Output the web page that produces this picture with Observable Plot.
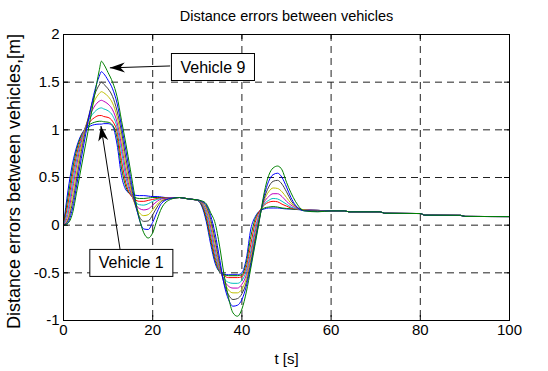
<!DOCTYPE html>
<html><head><meta charset="utf-8">
<script src="https://cdn.jsdelivr.net/npm/d3@7"></script>
<script src="https://cdn.jsdelivr.net/npm/@observablehq/plot@0.6"></script>
<style>html,body{margin:0;padding:0;background:#fff;}</style>
</head><body><div id="chart"></div>
<script>
const time = [0,1,2,3,4,5,6,7,8,8.5,9,10,11,12,13,14,15,16,17,18,19,20,21,22,24,26,28,30,31,32,33,34,35,36,37,38,39,40,41,42,43,44,45,46,47,48,49,50,51,52,54,57,60,63,64,71,72,80,81,89,90,100];

const vehicle1 = [0,0.36,0.64,0.83,0.95,1.01,1.04,1.055,1.06,1.06,1.065,
  1.065,1.04,0.85,0.52,0.37,0.33,0.315,0.31,0.31,0.305,0.30,0.30,0.295,
  0.285,0.29,0.275,0.26,
  0.20,0.04,-0.20,-0.40,-0.49,-0.515,-0.52,-0.52,-0.52,-0.50,-0.35,-0.04,0.09,0.15,0.17,0.18,0.18,0.18,0.175,0.17,0.17,0.165,
  0.16,0.155,0.15,0.15,0.14,0.14,0.125,0.122,0.105,0.103,0.092,0.09];
const vehicle2 = [0,0.29,0.58,0.80,0.94,1.02,1.06,1.08,1.09,1.09,1.085,
  1.08,1.05,0.92,0.60,0.40,0.32,0.29,0.28,0.28,0.285,0.29,0.29,0.29,
  0.285,0.29,0.275,0.262,
  0.21,0.07,-0.16,-0.37,-0.49,-0.52,-0.53,-0.53,-0.53,-0.52,-0.39,-0.12,0.07,0.15,0.18,0.19,0.195,0.19,0.18,0.175,0.17,0.165,
  0.16,0.155,0.15,0.15,0.14,0.14,0.125,0.122,0.105,0.103,0.092,0.09];
const vehicle3 = [0,0.22,0.51,0.75,0.92,1.03,1.09,1.13,1.15,1.15,1.14,
  1.13,1.09,0.98,0.68,0.44,0.32,0.27,0.25,0.25,0.26,0.27,0.28,0.285,
  0.285,0.29,0.275,0.262,
  0.22,0.10,-0.12,-0.34,-0.48,-0.53,-0.55,-0.55,-0.55,-0.54,-0.44,-0.20,0.03,0.15,0.21,0.24,0.25,0.245,0.22,0.20,0.18,0.17,
  0.16,0.155,0.15,0.15,0.14,0.14,0.125,0.122,0.105,0.103,0.092,0.09];
const vehicle4 = [0,0.16,0.44,0.70,0.90,1.04,1.13,1.19,1.225,1.23,1.22,
  1.20,1.15,1.03,0.77,0.50,0.34,0.25,0.215,0.21,0.225,0.25,0.27,0.28,
  0.285,0.29,0.275,0.263,
  0.23,0.13,-0.07,-0.30,-0.47,-0.56,-0.60,-0.61,-0.61,-0.58,-0.48,-0.27,-0.03,0.13,0.22,0.26,0.28,0.275,0.25,0.22,0.19,0.175,
  0.16,0.155,0.15,0.15,0.14,0.14,0.125,0.122,0.105,0.103,0.092,0.09];
const vehicle5 = [0,0.11,0.37,0.64,0.87,1.04,1.16,1.25,1.30,1.31,1.30,
  1.27,1.21,1.08,0.84,0.56,0.36,0.23,0.175,0.16,0.17,0.21,0.25,0.275,
  0.285,0.29,0.275,0.264,
  0.235,0.16,-0.02,-0.25,-0.45,-0.58,-0.64,-0.66,-0.66,-0.62,-0.52,-0.31,-0.07,0.12,0.24,0.30,0.33,0.33,0.30,0.25,0.21,0.185,
  0.16,0.155,0.15,0.15,0.14,0.14,0.125,0.122,0.105,0.103,0.092,0.09];
const vehicle6 = [0,0.07,0.30,0.57,0.83,1.03,1.19,1.31,1.38,1.40,1.39,
  1.35,1.28,1.14,0.91,0.63,0.40,0.22,0.13,0.10,0.11,0.16,0.22,0.26,
  0.28,0.29,0.275,0.264,
  0.24,0.18,0.02,-0.20,-0.43,-0.59,-0.68,-0.71,-0.71,-0.67,-0.56,-0.35,-0.11,0.10,0.26,0.35,0.39,0.385,0.35,0.29,0.23,0.195,
  0.16,0.15,0.15,0.15,0.14,0.14,0.125,0.122,0.105,0.103,0.092,0.09];
const vehicle7 = [0,0.05,0.23,0.50,0.77,1.01,1.21,1.37,1.47,1.50,1.48,
  1.43,1.35,1.20,0.98,0.70,0.45,0.23,0.09,0.04,0.045,0.11,0.19,0.25,
  0.28,0.29,0.275,0.265,
  0.245,0.20,0.06,-0.15,-0.40,-0.61,-0.73,-0.78,-0.77,-0.72,-0.60,-0.39,-0.14,0.09,0.28,0.40,0.46,0.47,0.43,0.35,0.26,0.20,
  0.155,0.15,0.15,0.15,0.14,0.14,0.125,0.122,0.105,0.103,0.092,0.09];
const vehicle8 = [0,0.03,0.17,0.43,0.70,0.96,1.20,1.41,1.56,1.61,1.59,
  1.52,1.43,1.28,1.04,0.78,0.51,0.26,0.06,-0.04,-0.045,0.03,0.14,0.23,
  0.28,0.29,0.275,0.265,
  0.25,0.215,0.10,-0.09,-0.35,-0.62,-0.78,-0.85,-0.84,-0.78,-0.64,-0.42,-0.17,0.08,0.31,0.46,0.53,0.545,0.50,0.40,0.29,0.21,
  0.15,0.145,0.15,0.15,0.14,0.14,0.125,0.122,0.105,0.103,0.092,0.09];
const vehicle9 = [0,0.02,0.12,0.36,0.61,0.86,1.11,1.37,1.62,1.72,1.69,
  1.60,1.50,1.35,1.10,0.85,0.58,0.30,0.07,-0.08,-0.135,-0.08,0.06,0.18,
  0.27,0.29,0.275,0.265,
  0.255,0.225,0.13,0.02,-0.22,-0.52,-0.76,-0.92,-0.955,-0.88,-0.70,-0.45,-0.19,0.07,0.34,0.52,0.60,0.62,0.58,0.45,0.34,0.25,
  0.15,0.14,0.15,0.15,0.14,0.14,0.125,0.122,0.105,0.103,0.092,0.09];

const seriesNames = ["Vehicle 1","Vehicle 2","Vehicle 3","Vehicle 4","Vehicle 5","Vehicle 6","Vehicle 7","Vehicle 8","Vehicle 9"];
const seriesColors = ["#0000ff","#008000","#ff0000","#00bfbf","#bf00bf","#bfbf00","#404040","#0000ff","#008000"];
const xTicks = [0,20,40,60,80,100];
const yTicks = [-1,-0.5,0,0.5,1,1.5,2];
const xGrid = [20,40,60,80];
const yGrid = [-0.5,0,0.5,1,1.5];
const titleText = "Distance errors between vehicles";
const xLabel = "t [s]";
const yLabel = "Distance errors between vehicles,[m]";
const annotations = [
  {label: "Vehicle 9", boxX: 33.5, boxY: 1.655, tailX: 23.9, tailY: 1.67, tipX: 10.4, tipY: 1.65},
  {label: "Vehicle 1", boxX: 15.2, boxY: -0.40, tailX: 12.7, tailY: -0.26, tipX: 8.4, tipY: 1.04}
];

const seriesValues = [vehicle1,vehicle2,vehicle3,vehicle4,vehicle5,vehicle6,vehicle7,vehicle8,vehicle9];
const rows = seriesValues.flatMap((vals, i) => time.map((t, j) => ({t, v: vals[j], name: seriesNames[i]})));

const W = 548, H = 371, mL = 63, mR = 39, mT = 34, mB = 51;
const innerW = W - mL - mR, innerH = H - mT - mB;
const font = "'Liberation Sans', Arial, Helvetica, sans-serif";

const xs = Plot.scale({x: {domain: [0, 100], range: [mL, W - mR]}});
const ys = Plot.scale({y: {domain: [-1, 2], range: [H - mB, mT]}});
const headAngle = d => {
  const dx = xs.apply(d.tipX) - xs.apply(d.tailX);
  const dy = ys.apply(d.tipY) - ys.apply(d.tailY);
  return Math.atan2(dx, -dy) * 180 / Math.PI;
};
const arrowHead = {draw(ctx) { ctx.moveTo(0, 0); ctx.lineTo(-5, 15); ctx.lineTo(0, 10.5); ctx.lineTo(5, 15); ctx.closePath(); }};

const grid = {stroke: "#222", strokeWidth: 1, strokeDasharray: "7,5"};

const svg = Plot.plot({
  width: W, height: H,
  marginLeft: mL, marginRight: mR, marginTop: mT, marginBottom: mB,
  style: {background: "white", color: "black", fontFamily: font, fontSize: "15px"},
  x: {domain: [0, 100], nice: false},
  y: {domain: [-1, 2], nice: false},
  color: {domain: seriesNames, range: seriesColors},
  marks: [
    Plot.ruleX(xGrid, grid),
    Plot.ruleY(yGrid, grid),
    Plot.line(rows, {x: "t", y: "v", z: "name", stroke: "name", curve: "monotone-x", strokeWidth: 1, clip: true}),
    Plot.ruleX(xTicks, {stroke: "black", insetTop: innerH - 5}),
    Plot.ruleX(xTicks, {stroke: "black", insetBottom: innerH - 5}),
    Plot.ruleY(yTicks, {stroke: "black", insetRight: innerW - 5}),
    Plot.ruleY(yTicks, {stroke: "black", insetLeft: innerW - 5}),
    Plot.frame({stroke: "black"}),
    Plot.axisX({ticks: xTicks, tickSize: 0, tickPadding: 4, tickFormat: d => String(d), label: null, fontSize: 15}),
    Plot.axisY({ticks: yTicks, tickSize: 0, tickPadding: 4, tickFormat: d => String(d), label: null, fontSize: 15}),
    Plot.text([titleText], {text: d => d, frameAnchor: "top", textAnchor: "middle", dy: -18, fontSize: 14.5, lineAnchor: "middle"}),
    Plot.text([xLabel], {text: d => d, frameAnchor: "bottom", textAnchor: "middle", dy: 39, fontSize: 15, lineAnchor: "middle"}),
    Plot.text([yLabel], {text: d => d, frameAnchor: "left", textAnchor: "middle", dx: -49, dy: 4, rotate: -90, fontSize: 18, lineAnchor: "middle"}),
    Plot.link(annotations, {x1: "tailX", y1: "tailY", x2: "tipX", y2: "tipY", stroke: "black", strokeWidth: 1}),
    Plot.dot(annotations, {x: "tipX", y: "tipY", symbol: arrowHead, rotate: headAngle, fill: "black", stroke: "none", r: 5}),
    Plot.text(annotations, {x: "boxX", y: "boxY", text: "label", textAnchor: "middle", fontSize: 16, className: "anno-label", lineAnchor: "middle"})
  ]
});
document.getElementById("chart").append(svg);

d3.select(svg).selectAll(".anno-label text").each(function() {
  const b = this.getBBox();
  const padX = 9, padY = 5;
  const rect = document.createElementNS("http://www.w3.org/2000/svg", "rect");
  rect.setAttribute("x", b.x - padX);
  rect.setAttribute("y", b.y - padY);
  rect.setAttribute("width", b.width + 2 * padX);
  rect.setAttribute("height", b.height + 2 * padY);
  rect.setAttribute("fill", "white");
  rect.setAttribute("stroke", "black");
  rect.setAttribute("stroke-width", "1");
  const tr = this.getAttribute("transform");
  if (tr) rect.setAttribute("transform", tr);
  this.parentNode.insertBefore(rect, this);
});
</script>
</body></html>
